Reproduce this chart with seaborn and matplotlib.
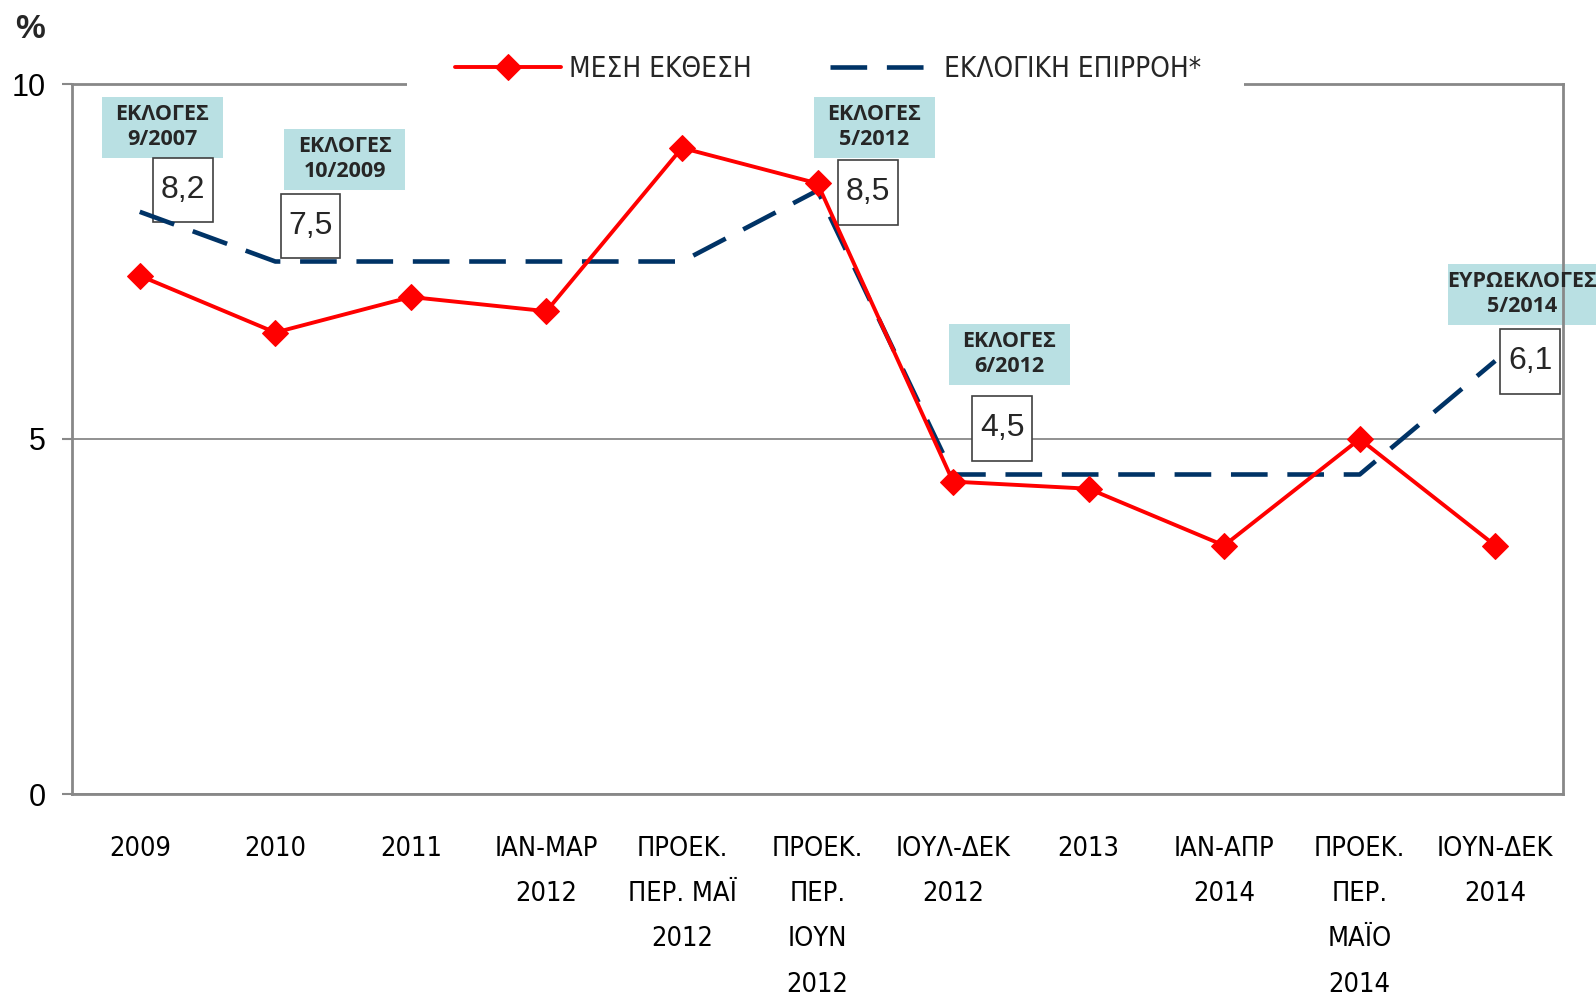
import matplotlib
matplotlib.use("Agg")
import matplotlib.pyplot as plt
import matplotlib.transforms as mtransforms
from matplotlib.patches import Rectangle
import seaborn as sns
import pandas as pd
import numpy as np

# ---------------- data ----------------
categories = ["2009", "2010", "2011", "ΙΑΝ-ΜΑΡ\n2012", "ΠΡΟΕΚ.\nΠΕΡ. ΜΑΪ\n2012",
              "ΠΡΟΕΚ.\nΠΕΡ.\nΙΟΥΝ\n2012", "ΙΟΥΛ-ΔΕΚ\n2012", "2013", "ΙΑΝ-ΑΠΡ\n2014",
              "ΠΡΟΕΚ.\nΠΕΡ.\nΜΑΪΟ\n2014", "ΙΟΥΝ-ΔΕΚ\n2014"]
mesi_ekthesi = [7.3, 6.5, 7.0, 6.8, 9.1, 8.6, 4.4, 4.3, 3.5, 5.0, 3.5]
eklogiki_epirroi = [8.2, 7.5, 7.5, 7.5, 7.5, 8.5, 4.5, 4.5, 4.5, 4.5, 6.1]
series_names = ["ΜΕΣΗ ΕΚΘΕΣΗ", "ΕΚΛΟΓΙΚΗ ΕΠΙΡΡΟΗ*"]
y_ticks = [0, 5, 10]

# election annotations: (category index, title, value label)
election_idx = [0, 1, 5, 6, 10]
election_titles = ["ΕΚΛΟΓΕΣ\n9/2007", "ΕΚΛΟΓΕΣ\n10/2009", "ΕΚΛΟΓΕΣ\n5/2012",
                   "ΕΚΛΟΓΕΣ\n6/2012", "ΕΥΡΩΕΚΛΟΓΕΣ\n5/2014"]

# layout of the annotation boxes (pixel offsets from the data point)
title_boxes = [(-38, 54, 121, 61), (9, 72, 121, 61), (-4, 33, 121, 61),
               (-4, 90, 121, 61), (-47, 36, 148, 61)]
value_boxes = [(13, -10, 60, 64), (6, 4, 59, 64), (20, -34, 60, 65),
               (19, 14, 60, 65), (5, -33, 60, 65)]

# ---------------- style ----------------
sns.set_theme(style="white")
plt.rcParams["font.family"] = ["Liberation Sans", "DejaVu Sans"]
narrow = dict(family=["DejaVu Sans"], stretch="condensed")

RED = "#FF0000"
NAVY = "#003366"
GRAY = "#888888"

fig = plt.figure(figsize=(15.96, 10.01), dpi=100)
ax = fig.add_axes([72 / 1596, 1 - 794 / 1001, (1563 - 72) / 1596, (794 - 84) / 1001])

x = np.arange(len(categories))
df = pd.DataFrame({"x": x, "red": mesi_ekthesi, "blue": eklogiki_epirroi})

sns.lineplot(data=df, x="x", y="blue", ax=ax, color=NAVY, lw=3.3,
             label=series_names[1], zorder=3)
sns.lineplot(data=df, x="x", y="red", ax=ax, color=RED, lw=2.8, marker="D",
             markersize=13, markeredgecolor=RED, markerfacecolor=RED,
             label=series_names[0], zorder=4)
ax.lines[0].set_dashes((8, 4.3))
ax.lines[0].set_solid_capstyle("butt")

ax.set_xlim(-0.5, len(categories) - 0.5)
ax.set_ylim(0, 10)
ax.set_xticks(x)
ax.set_xticklabels(categories)
ax.set_yticks(y_ticks)
ax.set_yticklabels([str(v) for v in y_ticks])
ax.set_xlabel("")
ax.set_ylabel("")

ax.set_axisbelow(True)
ax.yaxis.grid(True, color=GRAY, lw=1.3)
ax.xaxis.grid(False)
for s in ax.spines.values():
    s.set_visible(True)
    s.set_color(GRAY)
    s.set_linewidth(2)

ax.tick_params(axis="x", length=0, pad=30)
ax.tick_params(axis="y", length=7, width=1.5, color=GRAY, pad=12, labelsize=22, left=True)
for lab in ax.get_xticklabels():
    lab.set_family(narrow["family"])
    lab.set_stretch(narrow["stretch"])
    lab.set_fontsize(19.5)
    lab.set_linespacing(1.97)
    lab.set_color("black")
for lab in ax.get_yticklabels():
    lab.set_color("black")

# legend: white strip breaking the top spine
ax.add_patch(Rectangle((0.2247, 0.985), 0.5613, 0.03, transform=ax.transAxes,
                       facecolor="white", edgecolor="none", clip_on=False, zorder=3))
h, l = ax.get_legend_handles_labels()
order = [l.index(series_names[0]), l.index(series_names[1])]
leg = ax.legend([h[i] for i in order], [l[i] for i in order], loc="center",
                bbox_to_anchor=(0.507, 1.021), ncol=2, frameon=False,
                prop={"family": narrow["family"], "stretch": narrow["stretch"], "size": 20},
                handlelength=3.8, handletextpad=0.3, columnspacing=2.8, borderpad=0.1)
leg.set_zorder(6)

# annotations
def pix_transform(xv, yv):
    return mtransforms.IdentityTransform() + mtransforms.ScaledTranslation(xv, yv, ax.transData)

for k, idx in enumerate(election_idx):
    val = eklogiki_epirroi[idx]
    tr = pix_transform(idx, val)
    dx, dy, w, hh = title_boxes[k]
    ax.add_patch(Rectangle((dx, dy), w, hh, transform=tr, facecolor="#B9E0E3",
                           edgecolor="none", clip_on=False, zorder=1.2))
    ax.annotate(election_titles[k], xy=(idx, val), xycoords="data",
                xytext=(dx + w / 2, dy + hh / 2), textcoords="offset pixels",
                ha="center", va="center", fontsize=15.5, fontweight="bold",
                family=["Open Sans", "DejaVu Sans"], linespacing=1.25,
                annotation_clip=False, zorder=5)
    dx, dy, w, hh = value_boxes[k]
    ax.add_patch(Rectangle((dx, dy), w, hh, transform=tr, facecolor="white",
                           edgecolor="#404040", lw=1.2, clip_on=False, zorder=1.3))
    ax.annotate(f"{val:.1f}".replace(".", ","), xy=(idx, val), xycoords="data",
                xytext=(dx + w / 2, dy + hh / 2), textcoords="offset pixels",
                ha="center", va="center", fontsize=23,
                annotation_clip=False, zorder=5)

fig.text(30 / 1596, 1 - 29 / 1001, "%", ha="center", va="center",
         fontsize=24, fontweight="bold")

fig.savefig("out.png", dpi=100)
